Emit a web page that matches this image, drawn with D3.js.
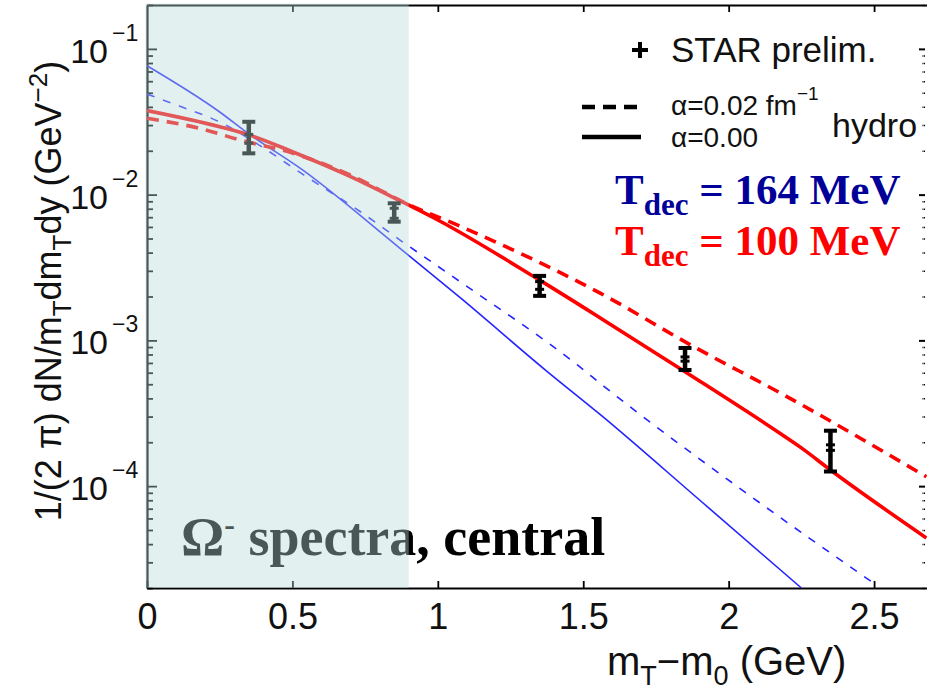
<!DOCTYPE html>
<html>
<head>
<meta charset="utf-8">
<script src="https://cdn.jsdelivr.net/npm/d3@7"></script>
<style>
  body { margin: 0; background: #fff; }
  svg { display: block; }
</style>
</head>
<body>
<div id="plot"></div>
<script>
// STAR preliminary, Omega- central (points + total and stat errors)
var starX      = [0.35, 0.85, 1.35, 1.85, 2.35];
var starY      = [0.0250, 0.00752, 0.00240, 0.000745, 0.000184];
var starHi     = [0.0316, 0.00872, 0.00277, 0.000887, 0.000240];
var starLo     = [0.0192, 0.00652, 0.00202, 0.000626, 0.000126];
var starStatHi = [0.0259, 0.00806, 0.00253, 0.000770, 0.000192];
var starStatLo = [0.0225, 0.00688, 0.00224, 0.000720, 0.000176];

// hydro, Tdec = 100 MeV, alpha = 0.00 (solid)
var red0X = [0, 0.25, 0.35, 0.5, 0.7, 0.85, 1.0, 1.35, 1.56, 1.85, 2.18, 2.25, 2.35, 2.68];
var red0Y = [0.0377, 0.0292, 0.0257, 0.0197, 0.0133, 0.0095, 0.0067, 0.00259, 0.00142, 0.00061, 0.000228, 0.000183, 0.000129, 0.0000441];
// hydro, Tdec = 100 MeV, alpha = 0.02 fm^-1 (dashed)
var red2X = [0, 0.18, 0.32, 0.5, 0.7, 0.89, 1.08, 1.56, 1.88, 2.18, 2.68];
var red2Y = [0.0334, 0.0285, 0.0237, 0.0193, 0.0136, 0.00872, 0.00603, 0.00210, 0.000905, 0.000433, 0.000116];
// hydro, Tdec = 164 MeV, alpha = 0.00 (solid)
var blue0X = [0, 0.25, 0.35, 0.53, 0.87, 1.08, 1.37, 1.56, 1.9, 2.25];
var blue0Y = [0.0766, 0.0369, 0.0261, 0.0150, 0.00428, 0.00194, 0.000626, 0.000308, 0.0000803, 0.0000200];
// hydro, Tdec = 164 MeV, alpha = 0.02 fm^-1 (dashed)
var blue2X = [0, 0.12, 0.25, 0.39, 0.54, 0.73, 0.87, 1.08, 1.48, 1.57, 2.07, 2.5];
var blue2Y = [0.0490, 0.0399, 0.0315, 0.0216, 0.0136, 0.00772, 0.00488, 0.00250, 0.000678, 0.000486, 0.0000869, 0.0000215];

var xTicks = [0, 0.5, 1, 1.5, 2, 2.5];
var yMajor = [1e-1, 1e-2, 1e-3, 1e-4];
var yExp   = ["\u22121", "\u22122", "\u22123", "\u22124"];
var shadeMax = 0.9;

var sans = "'Liberation Sans', Arial, Helvetica, sans-serif";
var serif = "'Liberation Serif', 'Times New Roman', serif";

var margin = {top: 5, right: 0, bottom: 107, left: 147},
    width = 927 - margin.left - margin.right,
    height = 695 - margin.top - margin.bottom;

var x = d3.scaleLinear().domain([0, 2.682]).range([0, width]);
var y = d3.scaleLog().domain([2e-5, 0.2]).range([height, 0]);

var svg = d3.select("#plot").append("svg")
    .attr("width", 927)
    .attr("height", 695);

var g = svg.append("g")
    .attr("transform", "translate(" + margin.left + "," + margin.top + ")");

var yMinor = y.ticks().filter(function(v) {
  var l = Math.log10(v);
  return Math.abs(l - Math.round(l)) > 1e-6;
});

function styleAxis(sel) {
  sel.selectAll("path.domain").attr("stroke", "#000").attr("stroke-width", 2.2);
  sel.selectAll(".tick line").attr("stroke", "#000").attr("stroke-width", 1.8);
}

// bottom axis with labels
var xb = g.append("g")
    .attr("transform", "translate(0," + height + ")")
    .call(d3.axisBottom(x).tickValues(xTicks).tickSize(-7).tickSizeOuter(0)
          .tickPadding(15).tickFormat(d3.format("")));
styleAxis(xb);
xb.selectAll("text").attr("font-family", sans).attr("font-size", 36).attr("fill", "#111");

// top axis
var xt = g.append("g")
    .call(d3.axisTop(x).tickValues(xTicks.slice(1)).tickSize(-7).tickSizeOuter(0).tickFormat(""));
styleAxis(xt);

// left axis, major + minor
var yl = g.append("g")
    .call(d3.axisLeft(y).tickValues(yMajor).tickSize(-10).tickSizeOuter(0).tickFormat(""));
styleAxis(yl);
var ylm = g.append("g")
    .call(d3.axisLeft(y).tickValues(yMinor).tickSize(-6).tickSizeOuter(0).tickFormat(""));
styleAxis(ylm);
ylm.select("path.domain").remove();

// right axis ticks
var yr = g.append("g")
    .attr("transform", "translate(" + (width - 2) + ",0)")
    .call(d3.axisRight(y).tickValues(yMajor).tickSize(-6).tickFormat(""));
yr.select("path.domain").remove();
yr.selectAll(".tick line").attr("stroke", "#000").attr("stroke-width", 2);
var yrm = g.append("g")
    .attr("transform", "translate(" + (width - 2) + ",0)")
    .call(d3.axisRight(y).tickValues(yMinor).tickSize(-3).tickFormat(""));
yrm.select("path.domain").remove();
yrm.selectAll(".tick line").attr("stroke", "#000").attr("stroke-width", 1.5).attr("stroke-dasharray", "1.5,1");

// y tick labels 10^n
yMajor.forEach(function(v, i) {
  g.append("text")
   .attr("x", -39).attr("y", y(v) + 14)
   .attr("text-anchor", "end")
   .attr("font-family", sans).attr("font-size", 34).attr("fill", "#111")
   .text("10");
  g.append("text")
   .attr("x", -35).attr("y", y(v) - 8)
   .attr("font-family", sans).attr("font-size", 23).attr("fill", "#111")
   .text(yExp[i]);
});

// curves
g.append("clipPath").attr("id", "clip")
  .append("rect").attr("width", width).attr("height", height);

var line = d3.line()
    .x(function(d) { return x(d[0]); })
    .y(function(d) { return y(d[1]); })
    .curve(d3.curveMonotoneX);

var curves = g.append("g").attr("clip-path", "url(#clip)");

function insert_curve(xs, ys, color, w, dash) {
  curves.append("path")
    .datum(d3.zip(xs, ys))
    .attr("d", line)
    .attr("fill", "none")
    .attr("stroke", color)
    .attr("stroke-width", w)
    .attr("stroke-dasharray", dash);
}
insert_curve(blue0X, blue0Y, "#2424ff", 1.6, null);
insert_curve(blue2X, blue2Y, "#2424ff", 1.6, "8,9");
insert_curve(red2X, red2Y, "#ff0000", 3.6, "12,8");
insert_curve(red0X, red0Y, "#ff0000", 3.6, null);

// STAR points
starX.forEach(function(xv, i) {
  var cx = x(xv);
  g.append("line")
   .attr("x1", cx).attr("x2", cx)
   .attr("y1", y(starHi[i])).attr("y2", y(starLo[i]))
   .attr("stroke", "#000").attr("stroke-width", 4.5);
  [starHi[i], starLo[i]].forEach(function(v) {
    g.append("line")
     .attr("x1", cx - 6.5).attr("x2", cx + 6.5)
     .attr("y1", y(v)).attr("y2", y(v))
     .attr("stroke", "#000").attr("stroke-width", 4);
  });
  [starStatHi[i], starStatLo[i]].forEach(function(v) {
    g.append("line")
     .attr("x1", cx - 4.5).attr("x2", cx + 4.5)
     .attr("y1", y(v)).attr("y2", y(v))
     .attr("stroke", "#000").attr("stroke-width", 3);
  });
});

// "Omega- spectra, central"
var om = g.append("text")
    .attr("x", 34).attr("y", 550)
    .attr("font-family", serif).attr("font-weight", "bold")
    .attr("font-size", 54).attr("fill", "#000");
om.append("tspan").text("\u03A9");
om.append("tspan").attr("font-size", 32).attr("dy", -20).text("-");
om.append("tspan").attr("dy", 20).text(" spectra, central");

// shaded low-pT region (overlay)
g.append("rect")
  .attr("x", x(0) - 1.5)
  .attr("y", -1.5)
  .attr("width", x(shadeMax) - x(0) + 1.5)
  .attr("height", height + 1.5)
  .attr("fill", "rgb(183,218,218)")
  .attr("opacity", 0.4);

// axis titles
var xl = svg.append("text")
    .attr("x", 607).attr("y", 675)
    .attr("font-family", sans).attr("font-size", 40).attr("fill", "#111");
xl.append("tspan").text("m");
xl.append("tspan").attr("font-size", 27).attr("dy", 10).text("T");
xl.append("tspan").attr("dy", -10).text("\u2212m");
xl.append("tspan").attr("font-size", 27).attr("dy", 10).text("0");
xl.append("tspan").attr("dy", -10).text(" (GeV)");

var yt = svg.append("text")
    .attr("transform", "translate(61,291) rotate(-90)")
    .attr("text-anchor", "middle")
    .attr("font-family", sans).attr("font-size", 36).attr("fill", "#111");
yt.append("tspan").text("1/(2 \u03C0) dN/m");
yt.append("tspan").attr("font-size", 26).attr("dy", 10).text("T");
yt.append("tspan").attr("dy", -10).text("dm");
yt.append("tspan").attr("font-size", 26).attr("dy", 10).text("T");
yt.append("tspan").attr("dy", -10).text("dy (GeV");
yt.append("tspan").attr("font-size", 26).attr("dy", -14).text("\u22122");
yt.append("tspan").attr("dy", 14).text(")");

// legend
svg.append("path")
  .attr("d", "M632,50H648M640,42V58")
  .attr("stroke", "#000").attr("stroke-width", 4);
svg.append("text")
  .attr("x", 671).attr("y", 62)
  .attr("font-family", sans).attr("font-size", 35).attr("fill", "#111")
  .text("STAR prelim.");

svg.append("line")
  .attr("x1", 582).attr("x2", 640).attr("y1", 107).attr("y2", 107)
  .attr("stroke", "#000").attr("stroke-width", 4.5).attr("stroke-dasharray", "13,8");
svg.append("line")
  .attr("x1", 582).attr("x2", 641).attr("y1", 137).attr("y2", 137)
  .attr("stroke", "#000").attr("stroke-width", 4.5);

var a1 = svg.append("text")
    .attr("x", 671).attr("y", 115)
    .attr("font-family", sans).attr("font-size", 28).attr("fill", "#111");
a1.append("tspan").text("\u03B1=0.02 fm");
a1.append("tspan").attr("font-size", 19).attr("dy", -15).text("\u22121");
svg.append("text")
  .attr("x", 671).attr("y", 147)
  .attr("font-family", sans).attr("font-size", 28).attr("fill", "#111")
  .text("\u03B1=0.00");
svg.append("text")
  .attr("x", 832).attr("y", 137)
  .attr("font-family", sans).attr("font-size", 34).attr("fill", "#111")
  .text("hydro");

function tdec_label(yy, color, txt) {
  var t = svg.append("text")
      .attr("x", 615).attr("y", yy)
      .attr("font-family", serif).attr("font-weight", "bold")
      .attr("font-size", 43).attr("fill", color);
  t.append("tspan").text("T");
  t.append("tspan").attr("font-size", 31).attr("dy", 11).text("dec");
  t.append("tspan").attr("dy", -11).text(" = " + txt);
}
tdec_label(204, "#000099", "164 MeV");
tdec_label(255, "#ff0000", "100 MeV");
</script>
</body>
</html>
